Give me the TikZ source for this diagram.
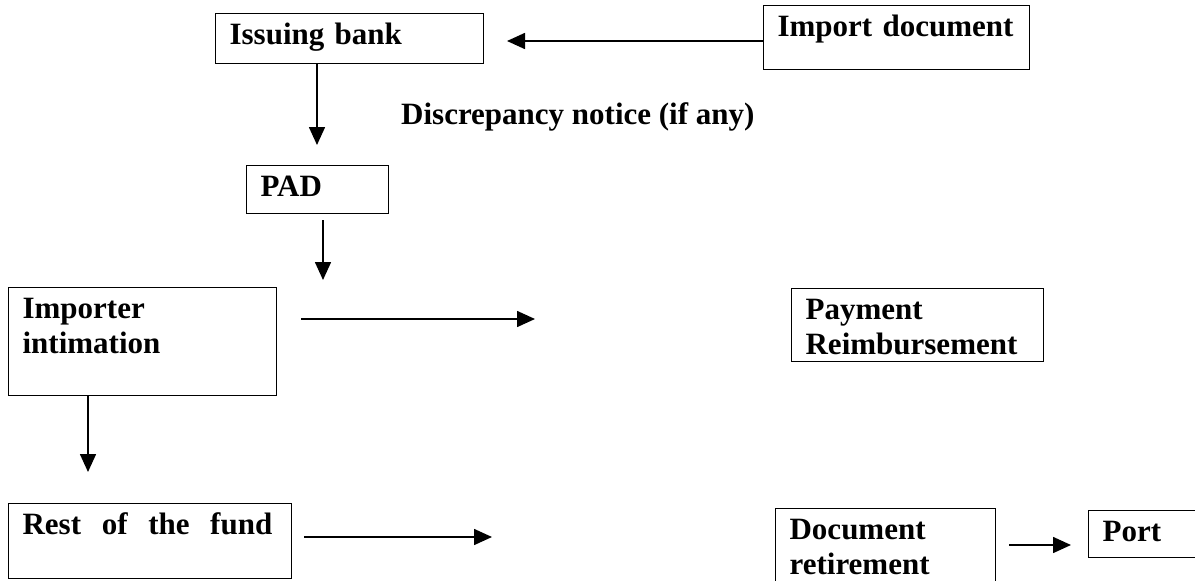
\documentclass[tikz,border=0pt]{standalone}
\usepackage{fontspec}
\setmainfont{Liberation Serif}
\usetikzlibrary{arrows.meta}
\tikzset{
  box/.style={draw,line width=1.2pt,anchor=north west,align=left,inner xsep=14pt,inner ysep=4pt,text height=27pt},
  note/.style={anchor=west,inner sep=0pt},
  arr/.style={draw=black,line width=1.6pt,-{Triangle[length=18pt,width=16pt]}},
}

\begin{document}
\begin{tikzpicture}[x=1pt,y=-1pt,font=\fontsize{31}{35}\selectfont\bfseries]
  \useasboundingbox (0,0) rectangle (1195,581);
  \node[box,text width=240pt,text depth=15pt] (issuing) at (215,13) {Issuing bank};
  \node[box,text width=238pt,text depth=29pt] (import) at (763,5) {Import document};
  \node[note] (discr) at (401,117) {Discrepancy notice (if any)};
  \node[box,text width=114pt,text depth=13pt] (pad) at (246,165) {PAD};
  \node[box,text width=240pt,text depth=73pt] (intim) at (8,287) {Importer\\intimation};
  \node[box,text width=224pt,text depth=38pt] (payment) at (791,288) {Payment\\Reimbursement};
  \node[box,text width=255pt,text depth=40pt] (rest) at (8,503) {Rest\ \ of\ \ the\ \ fund};
  \node[box,text width=192pt,text depth=46pt] (docret) at (775,508) {Document\\retirement};
  \node[box,text width=90pt,text depth=12pt] (port) at (1088,510) {Port};
  \coordinate (ibtip) at (317,145);
  \coordinate (padtip) at (323,280);
  \coordinate (imptip) at (507,41);
  \coordinate (intimtip) at (535,319);
  \coordinate (downtip) at (88,472);
  \coordinate (resttip) at (492,537);
  \draw[arr] (import.west |- imptip) -- (imptip);
  \draw[arr] (issuing.south -| ibtip) -- (ibtip);
  \draw[arr,shorten <=6pt] (pad.south -| padtip) -- (padtip);
  \draw[arr,shorten <=24pt] (intim.east |- intimtip) -- (intimtip);
  \draw[arr] (intim.south -| downtip) -- (downtip);
  \draw[arr,shorten <=12pt] (rest.east |- resttip) -- (resttip);
  \draw[arr,shorten <=13pt,shorten >=17pt] (docret.east |- 0,545) -- (port.west |- 0,545);
\end{tikzpicture}
\end{document}
